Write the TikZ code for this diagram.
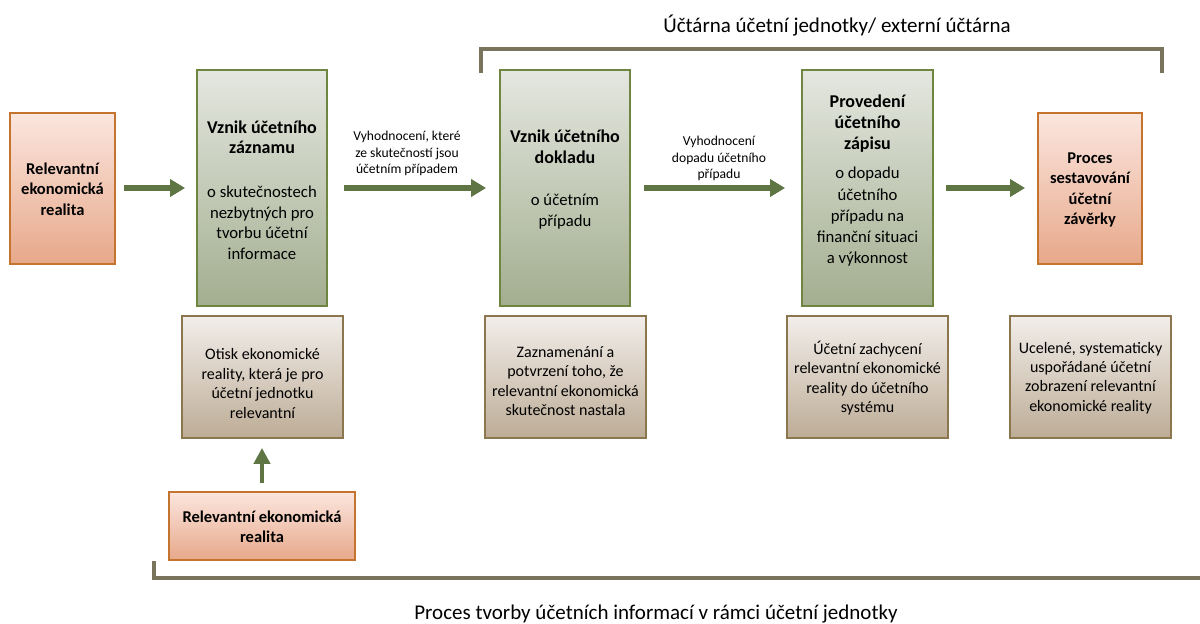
\documentclass[tikz,border=0pt]{standalone}
\usepackage{fontspec}
\setmainfont{Carlito}
\usetikzlibrary{arrows.meta,shadings}
\definecolor{gtop}{RGB}{228,231,224}
\definecolor{gbot}{RGB}{163,174,143}
\definecolor{gborder}{RGB}{110,134,64}
\definecolor{otop}{RGB}{251,230,222}
\definecolor{obot}{RGB}{231,168,138}
\definecolor{oborder}{RGB}{196,116,46}
\definecolor{btop}{RGB}{242,238,234}
\definecolor{bbot}{RGB}{189,172,150}
\definecolor{bborder}{RGB}{140,118,78}
\definecolor{arrowc}{RGB}{95,117,67}
\definecolor{brack}{RGB}{122,116,92}
\tikzset{
  gbox/.style={draw=gborder, line width=1.8pt, top color=gtop, bottom color=gbot, minimum width=130pt, minimum height=236pt, inner sep=0pt},
  obox/.style={draw=oborder, line width=1.8pt, top color=otop, bottom color=obot, inner sep=0pt},
  bbox/.style={draw=bborder, line width=1.8pt, top color=btop, bottom color=bbot, minimum width=161pt, minimum height=122pt, inner sep=0pt},
  gtext/.style={align=center, inner sep=0pt, font=\fontsize{16.7}{20.6}\selectfont},
  otext/.style={align=center, inner sep=0pt, font=\fontsize{16.5}{20.5}\selectfont\bfseries},
  btext/.style={align=center, inner sep=0pt, font=\fontsize{16}{19.4}\selectfont},
  lbl/.style={align=center, inner sep=0pt, font=\fontsize{13.6}{16.5}\selectfont},
  big/.style={inner sep=0pt, anchor=base, font=\fontsize{21}{24}\selectfont},
  harrow/.style={draw=arrowc, line width=6pt, -{Triangle[length=15pt,width=17pt]}},
  varrow/.style={draw=arrowc, line width=4.5pt, -{Triangle[length=16pt,width=16pt]}},
  brk/.style={draw=brack, line width=3.5pt}
}
\newcommand{\ttl}[1]{{\fontsize{18}{20.6}\selectfont\bfseries #1}}
\begin{document}
\begin{tikzpicture}[x=1pt,y=-1pt]
\useasboundingbox (0,0) rectangle (1200,624);
% boxes
\node[obox, minimum width=105pt, minimum height=151pt] (lr) at (62.5,188.5) {};
\node[gbox] (g1) at (262,188) {};
\node[gbox] (g2) at (565,188) {};
\node[gbox, minimum width=131pt] (g3) at (867.5,188) {};
\node[obox, minimum width=104pt, minimum height=151pt] (rr) at (1090,188.5) {};
\node[bbox] (b1) at (262.5,377) {};
\node[bbox] (b2) at (565.5,377) {};
\node[bbox] (b3) at (867.5,377) {};
\node[bbox] (b4) at (1090.5,377) {};
\node[obox, minimum width=186pt, minimum height=68pt] (bo) at (262,526) {};
% texts
\node[otext] (lrt) at (62.5,189) {Relevantní\\ekonomická\\realita};
\node[gtext] (g1t) at (262,190) {\ttl{Vznik účetního}\\\ttl{záznamu}\\[23pt]o skutečnostech\\nezbytných pro\\tvorbu účetní\\informace};
\node[gtext] (g2t) at (565,179.5) {\ttl{Vznik účetního}\\\ttl{dokladu}\\[22pt]o účetním\\případu};
\node[gtext, font=\fontsize{16.7}{21.2}\selectfont] (g3t) at (867.5,180.5) {\ttl{Provedení}\\\ttl{účetního}\\\ttl{zápisu}\\[8pt]o dopadu\\účetního\\případu na\\finanční situaci\\a výkonnost};
\node[otext] (rrt) at (1090,190) {Proces\\sestavování\\účetní\\závěrky};
\node[btext] (b1t) at (262.5,383.5) {Otisk ekonomické\\reality, která je pro\\účetní jednotku\\relevantní};
\node[btext] (b2t) at (565.5,381) {Zaznamenání a\\potvrzení toho, že\\relevantní ekonomická\\skutečnost nastala};
\node[btext] (b3t) at (867.5,378) {Účetní zachycení\\relevantní ekonomické\\reality do účetního\\systému};
\node[btext] (b4t) at (1090.5,378) {Ucelené, systematicky\\uspořádané účetní\\zobrazení relevantní\\ekonomické reality};
\node[otext, font=\fontsize{16.5}{20}\selectfont\bfseries] (bot) at (262,527) {Relevantní ekonomická\\realita};
\node[lbl] (l1) at (407,153.5) {Vyhodnocení, které\\ze skutečností jsou\\účetním případem};
\node[lbl] (l2) at (719,158.5) {Vyhodnocení\\dopadu účetního\\případu};
\node[big] (top) at (837,32) {Účtárna účetní jednotky/ externí účtárna};
\node[big] (bottom) at (656,619) {Proces tvorby účetních informací v rámci účetní jednotky};
% arrows
\draw[harrow, shorten <=8pt, shorten >=11pt] (lr.east |- 0,188) -- (g1.west |- 0,188);
\draw[harrow, shorten <=16pt, shorten >=13pt] (g1.east) -- (g2.west);
\draw[harrow, shorten <=13pt, shorten >=16pt] (g2.east) -- (g3.west);
\draw[harrow, shorten <=12pt, shorten >=12pt] (g3.east) -- (rr.west |- 0,188);
\draw[varrow, shorten <=8pt, shorten >=9pt] (bo.north) -- (b1.south -| bo.north);
% brackets
\draw[brk] (481,73) -- (481,49) -- (1162,49) -- (1162,73);
\draw[brk] (154,561) -- (154,578) -- (1200,578);
\end{tikzpicture}
\end{document}
